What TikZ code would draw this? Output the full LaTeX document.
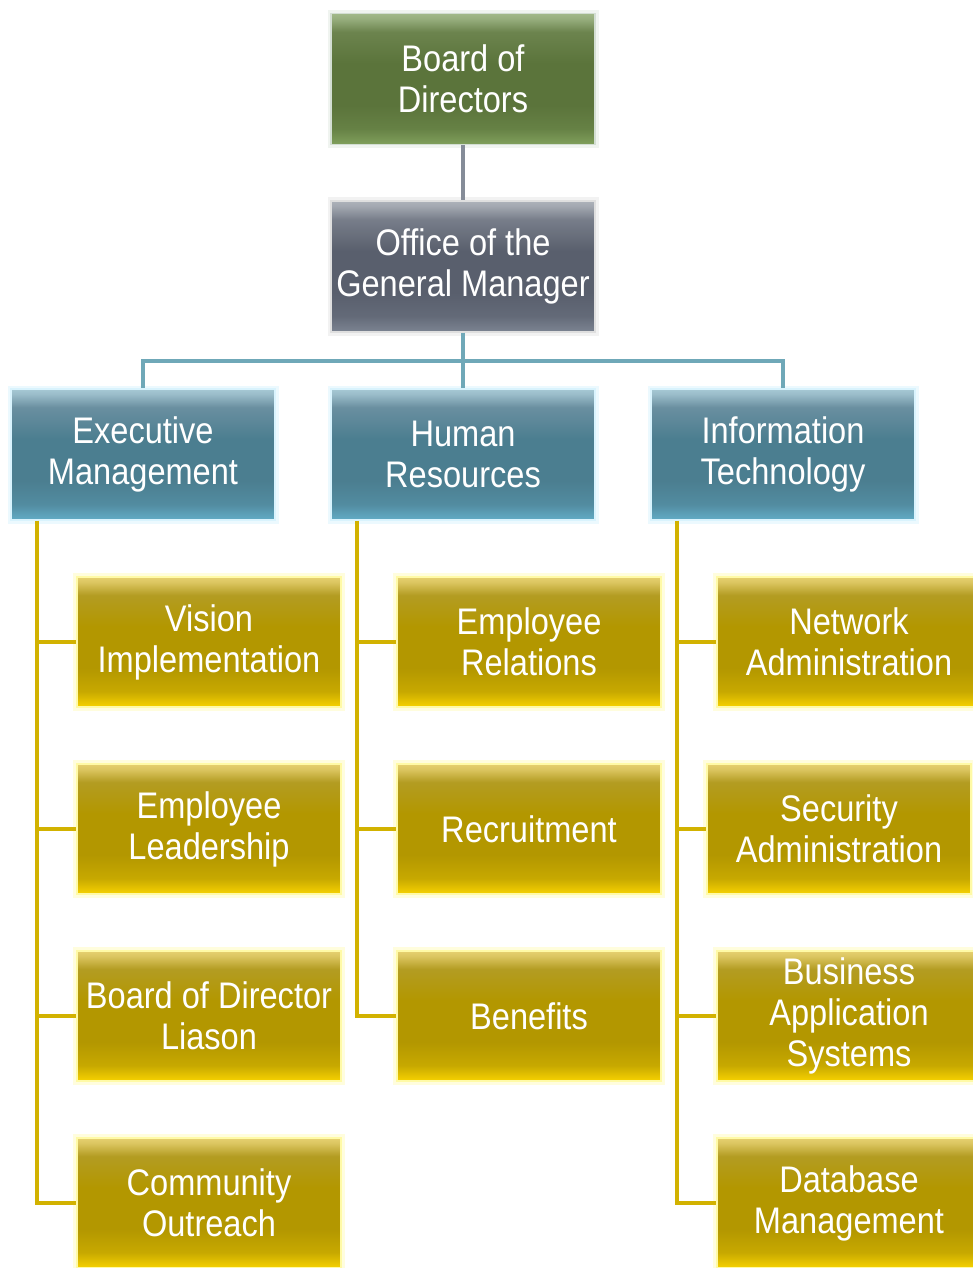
\documentclass[tikz,border=0pt]{standalone}
\usepackage{fontspec}
\setmainfont{Liberation Sans}[FakeStretch=0.88]
\definecolor{linegray}{HTML}{858C98}
\definecolor{lineteal}{HTML}{6FA8B8}
\definecolor{lineyel}{HTML}{D2B200}
\definecolor{yb}{HTML}{F7D200}
\definecolor{ym}{HTML}{B39700}
\definecolor{yu}{HTML}{B39C22}
\definecolor{yt}{HTML}{E6D070}
\pgfdeclareverticalshading{yshade}{100bp}{color(0bp)=(yb);color(25bp)=(yb);color(31bp)=(ym!70!yb);color(40bp)=(ym);color(56bp)=(ym);color(68bp)=(yu);color(73bp)=(yt!80!yu);color(75bp)=(yt);color(100bp)=(yt)}
\definecolor{tb}{HTML}{62ACC6}
\definecolor{tm}{HTML}{4B7E90}
\definecolor{tu}{HTML}{6A8FA0}
\definecolor{tt}{HTML}{A6C8D4}
\pgfdeclareverticalshading{tshade}{100bp}{color(0bp)=(tb);color(25bp)=(tb);color(31bp)=(tm!70!tb);color(40bp)=(tm);color(56bp)=(tm);color(68bp)=(tu);color(73bp)=(tt!80!tu);color(75bp)=(tt);color(100bp)=(tt)}
\definecolor{gb}{HTML}{7C8492}
\definecolor{gm}{HTML}{595F6D}
\definecolor{gu}{HTML}{787E8A}
\definecolor{gt}{HTML}{ADB2BA}
\pgfdeclareverticalshading{gshade}{100bp}{color(0bp)=(gb);color(25bp)=(gb);color(31bp)=(gm!70!gb);color(40bp)=(gm);color(56bp)=(gm);color(68bp)=(gu);color(73bp)=(gt!80!gu);color(75bp)=(gt);color(100bp)=(gt)}
\definecolor{vb}{HTML}{80A05C}
\definecolor{vm}{HTML}{5B743B}
\definecolor{vu}{HTML}{6C844E}
\definecolor{vt}{HTML}{A2B98A}
\pgfdeclareverticalshading{vshade}{100bp}{color(0bp)=(vb);color(25bp)=(vb);color(31bp)=(vm!70!vb);color(40bp)=(vm);color(56bp)=(vm);color(68bp)=(vu);color(73bp)=(vt!80!vu);color(75bp)=(vt);color(100bp)=(vt)}
\tikzset{
  box/.style={rectangle, minimum width=264pt, minimum height=131pt, inner sep=0pt,
    align=center, text=white, font=\fontsize{37}{41}\selectfont, line width=1.5pt},
  ybox/.style={box, minimum height=130pt, shading=yshade, draw=yellow!35!white,
    preaction={draw=yellow!30!white, line width=8pt, opacity=0.45}},
  tbox/.style={box, shading=tshade, draw=cyan!15!white,
    preaction={draw=cyan!15!white, line width=7pt, opacity=0.5}},
  gbox/.style={box, shading=gshade, draw=gray!25!white,
    preaction={draw=gray!20!white, line width=7pt, opacity=0.5}},
  vbox/.style={box, shading=vshade, draw=green!15!gray!30!white,
    preaction={draw=green!15!gray!20!white, line width=7pt, opacity=0.5}},
  gline/.style={draw=linegray, line width=4pt},
  tline/.style={draw=lineteal, line width=4pt},
  yline/.style={draw=lineyel, line width=4pt},
}
\begin{document}
\begin{tikzpicture}[x=1pt,y=-1pt]
\useasboundingbox (0,0) rectangle (973,1268);
% nodes
\node[vbox] (bod) at (463,79) {Board of\\Directors};
\node[gbox] (ogm) at (463,266.5) {Office of the\\General Manager};
\node[tbox] (em) at (143,454.5) {Executive\\Management};
\node[tbox] (hr) at (463,454.5) {Human\\Resources};
\node[tbox] (it) at (783,454.5) {Information\\Technology};

\node[ybox] (vi) at (209,642) {Vision\\Implementation};
\node[ybox] (el) at (209,829) {Employee\\Leadership};
\node[ybox] (bdl) at (209,1016) {Board of Director\\Liason};
\node[ybox] (co) at (209,1203) {Community\\Outreach};

\node[ybox] (er) at (529,642) {Employee\\Relations};
\node[ybox] (rec) at (529,829) {Recruitment};
\node[ybox] (ben) at (529,1016) {Benefits};

\node[ybox] (na) at (849,642) {Network\\Administration};
\node[ybox] (sa) at (839,829) {Security\\Administration};
\node[ybox] (bas) at (849,1016) {Business\\Application\\Systems};
\node[ybox] (dm) at (849,1203) {Database\\Management};

% connectors
\draw[gline] (bod.south) -- (ogm.north);
\draw[tline] (ogm.south) -- ++(0,28) -| (em.north);
\draw[tline] (ogm.south) -- (hr.north);
\draw[tline] (ogm.south) -- ++(0,28) -| (it.north);

\coordinate (c1) at ([xshift=27pt]em.south west);
\coordinate (c2) at ([xshift=27pt]hr.south west);
\coordinate (c3) at ([xshift=27pt]it.south west);
\draw[yline] (c1) |- (vi.west);
\draw[yline] (c1) |- (el.west);
\draw[yline] (c1) |- (bdl.west);
\draw[yline] (c1) |- (co.west);
\draw[yline] (c2) |- (er.west);
\draw[yline] (c2) |- (rec.west);
\draw[yline] (c2) |- (ben.west);
\draw[yline] (c3) |- (na.west);
\draw[yline] (c3) |- (sa.west);
\draw[yline] (c3) |- (bas.west);
\draw[yline] (c3) |- (dm.west);
\end{tikzpicture}
\end{document}
